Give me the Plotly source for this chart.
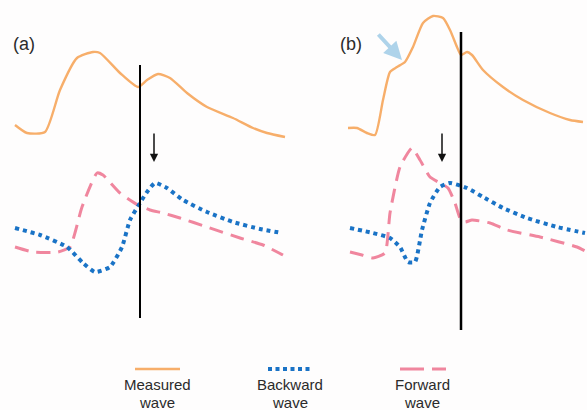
import plotly.graph_objects as go

# ---- Panel (a) data (time, amplitude; arbitrary units) ----
a_meas_t = [15, 27, 45, 60, 77, 93, 100, 120, 138, 147, 158, 170, 187, 207, 233, 253, 267, 285]
a_meas_y = [125, 133, 132, 90, 58, 52, 53, 73, 87, 80, 74, 78, 93, 107, 118, 128, 133, 137]
a_fwd_t = [15, 33, 58, 70, 82, 97, 103, 120, 138, 150, 163, 180, 207, 240, 263, 283]
a_fwd_y = [247, 252, 252, 247, 207, 173, 175, 193, 205, 210, 213, 218, 227, 238, 245, 255]
a_bwd_t = [15, 40, 67, 83, 95, 110, 122, 130, 140, 147, 155, 167, 183, 207, 233, 260, 282]
a_bwd_y = [228, 235, 247, 263, 272, 267, 247, 220, 203, 192, 183, 188, 200, 212, 222, 229, 233]

# ---- Panel (b) data ----
b_meas_t = [348, 357, 367, 375, 383, 390, 397, 405, 413, 423, 433, 443, 450, 457, 461, 467, 472, 483, 503, 523, 550, 570, 583]
b_meas_y = [128, 128, 133, 135, 100, 72, 67, 62, 47, 23, 16, 18, 30, 47, 55, 52, 55, 70, 87, 100, 113, 120, 122]
b_fwd_t = [350, 362, 373, 385, 390, 400, 412, 420, 430, 440, 448, 455, 460, 465, 472, 490, 507, 540, 577, 587]
b_fwd_y = [252, 255, 258, 253, 213, 167, 148, 160, 177, 183, 188, 203, 218, 222, 220, 223, 230, 237, 247, 252]
b_bwd_t = [350, 373, 390, 400, 408, 415, 422, 430, 440, 450, 467, 483, 503, 527, 557, 585]
b_bwd_y = [228, 233, 238, 247, 262, 262, 230, 203, 187, 183, 188, 197, 208, 218, 227, 233]

# vertical markers (time) and arrow times
a_vline_t, b_vline_t = 140, 461
a_arrow_t, b_arrow_t = 154, 442

series_names = ["Measured\nwave", "Backward\nwave", "Forward\nwave"]

ORANGE = "#F7AE6A"
PINK = "#F0869E"
BLUE = "#1A73C6"
TEXT = "#2b2b2b"
FONT = "Liberation Sans"
H = 410


def inv(v):
    return [H - p for p in v]


fig = go.Figure()

for t, y in [(a_meas_t, a_meas_y), (b_meas_t, b_meas_y)]:
    fig.add_trace(go.Scatter(x=t, y=inv(y), mode="lines",
                             line=dict(color=ORANGE, width=2.4, shape="spline", smoothing=0.6),
                             hoverinfo="skip"))
for t, y in [(a_fwd_t, a_fwd_y), (b_fwd_t, b_fwd_y)]:
    fig.add_trace(go.Scatter(x=t, y=inv(y), mode="lines",
                             line=dict(color=PINK, width=3, dash="14px,8px", shape="spline", smoothing=0.5),
                             hoverinfo="skip"))
for t, y in [(a_bwd_t, a_bwd_y), (b_bwd_t, b_bwd_y)]:
    fig.add_trace(go.Scatter(x=t, y=inv(y), mode="lines",
                             line=dict(color=BLUE, width=4, dash="4px,4px", shape="spline", smoothing=0.5),
                             hoverinfo="skip"))

# vertical lines
fig.add_shape(type="line", x0=a_vline_t, x1=a_vline_t, y0=H - 65, y1=H - 318,
              line=dict(color="black", width=2))
fig.add_shape(type="line", x0=b_vline_t, x1=b_vline_t, y0=H - 32, y1=H - 330,
              line=dict(color="black", width=2.5))

# black down arrows
for t in [a_arrow_t, b_arrow_t]:
    fig.add_annotation(x=t, y=H - 162, ax=t, ay=H - 132, xref="x", yref="y",
                       axref="x", ayref="y", text="", showarrow=True,
                       arrowhead=2, arrowsize=1.1, arrowwidth=1.5, arrowcolor="#111111")

# light blue arrow in panel (b)
fig.add_annotation(x=402, y=H - 60, ax=377, ay=H - 33, xref="x", yref="y",
                   axref="x", ayref="y", text="", showarrow=True,
                   arrowhead=2, arrowsize=0.9, arrowwidth=4, arrowcolor="#AED3EA")

# panel labels
for lab, t in [("(a)", 24), ("(b)", 351)]:
    fig.add_annotation(x=t, y=H - 44, text=lab, showarrow=False, xref="x", yref="y",
                       font=dict(size=18, color=TEXT, family=FONT))

# legend samples
leg_y = H - 369
fig.add_shape(type="line", x0=135, x1=180, y0=leg_y, y1=leg_y, line=dict(color=ORANGE, width=2.5))
fig.add_shape(type="line", x0=268, x1=313, y0=leg_y, y1=leg_y, line=dict(color=BLUE, width=4, dash="4px,3.5px"))
fig.add_shape(type="line", x0=400, x1=446, y0=leg_y, y1=leg_y, line=dict(color=PINK, width=3, dash="24px,8px"))

for name, cx in zip(series_names, [157, 290, 422]):
    l1, l2 = name.split("\n")
    fig.add_annotation(x=cx, y=H - 384, text=l1, showarrow=False, xref="x", yref="y",
                       font=dict(size=15, color=TEXT, family=FONT))
    fig.add_annotation(x=cx, y=H - 402, text=l2, showarrow=False, xref="x", yref="y",
                       font=dict(size=15, color=TEXT, family=FONT))

fig.update_layout(
    width=587, height=410,
    margin=dict(l=0, r=0, t=0, b=0),
    paper_bgcolor="#FEFDFD", plot_bgcolor="#FEFDFD",
    showlegend=False,
    xaxis=dict(range=[0, 587], visible=False, fixedrange=True),
    yaxis=dict(range=[0, 410], visible=False, fixedrange=True),
)

fig.write_html("out.html", config={"displayModeBar": False},
               post_script="document.body.style.margin='0px';document.body.style.overflow='hidden';")
